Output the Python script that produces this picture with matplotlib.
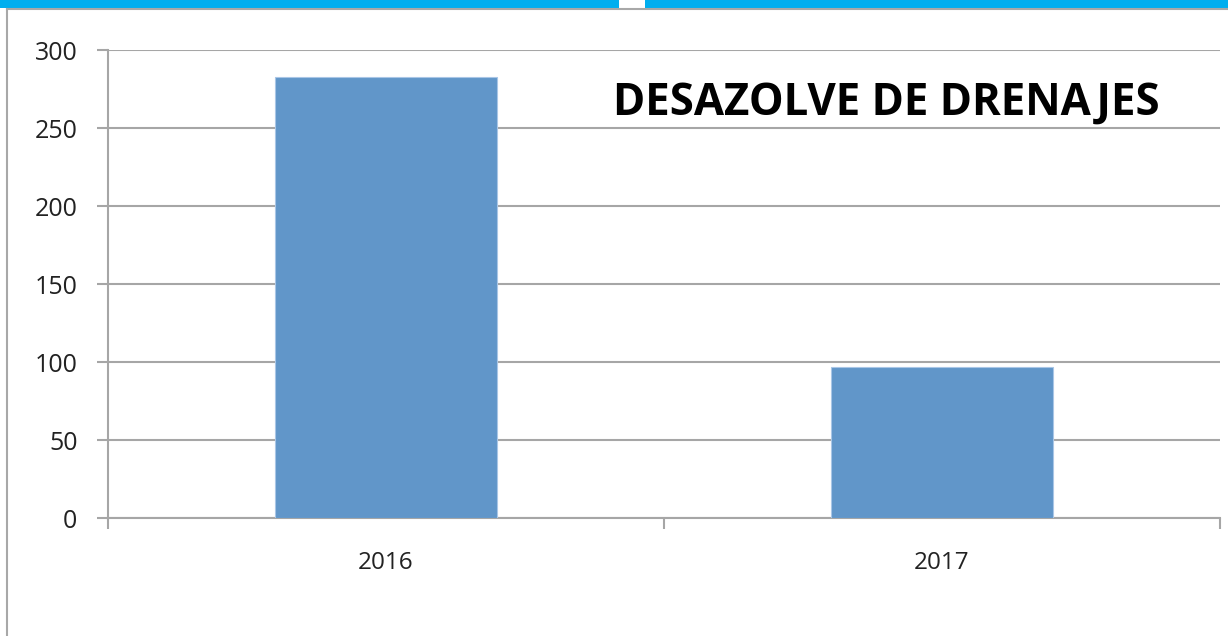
import matplotlib.pyplot as plt
from matplotlib.patches import Rectangle
from matplotlib.lines import Line2D
import numpy as np

# datos del gráfico
years = ['2016', '2017']
values = [283, 97]
y_ticks = [0, 50, 100, 150, 200, 250, 300]
title = 'DESAZOLVE DE DRENAJES'

plt.rcParams['font.family'] = ['Open Sans', 'DejaVu Sans']

fig = plt.figure(figsize=(12.28, 6.36), dpi=100)
W, H = 1228, 636

# franja azul superior con hueco
fig.patches.append(Rectangle((0, 1 - 8 / H), 619 / W, 8 / H, transform=fig.transFigure,
                             facecolor='#00AEEF', edgecolor='none'))
fig.patches.append(Rectangle((645 / W, 1 - 8 / H), 1 - 645 / W, 8 / H, transform=fig.transFigure,
                             facecolor='#00AEEF', edgecolor='none'))
fig.lines.append(Line2D([7 / W, 1], [1 - 9 / H, 1 - 9 / H], transform=fig.transFigure,
                        color='#a8a8a8', lw=1.5))
fig.lines.append(Line2D([7 / W, 7 / W], [0, 1 - 9 / H], transform=fig.transFigure,
                        color='#a8a8a8', lw=1.5))

ax = fig.add_axes([108 / W, 1 - 518 / H, (1220 - 108) / W, (518 - 50) / H])

x = np.arange(len(years))
ax.bar(x, values, width=0.4, color='#6196C9', edgecolor='#a9c6e6', linewidth=0.8, zorder=3)

ax.set_xlim(-0.5, len(years) - 0.5)
ax.set_ylim(0, 300)
ax.set_yticks(y_ticks)
ax.set_yticklabels([str(v) for v in y_ticks], fontsize=18)
ax.grid(axis='y', color='#a6a6a6', lw=1.5, zorder=0)

# ticks de categoría en los bordes
ax.set_xticks(np.arange(-0.5, len(years), 1.0))
ax.set_xticklabels([])
ax.set_xticks(x, minor=True)
ax.set_xticklabels(years, minor=True, fontsize=17.5)
ax.tick_params(axis='x', which='minor', length=0, pad=24, labelcolor='#222222')
ax.tick_params(axis='x', which='major', length=8, color='#a6a6a6', width=1.5, direction='out')
ax.tick_params(axis='y', length=8, color='#a6a6a6', width=1.5, pad=14, labelcolor='#222222')

for s in ['top', 'right']:
    ax.spines[s].set_visible(False)
for s in ['left', 'bottom']:
    ax.spines[s].set_color('#a6a6a6')
    ax.spines[s].set_linewidth(1.5)

ax.text(0.6995, 0.886, title, transform=ax.transAxes, fontsize=31.5, fontweight='bold',
        ha='center', va='center', color='black')

fig.savefig('out.png', dpi=100)
